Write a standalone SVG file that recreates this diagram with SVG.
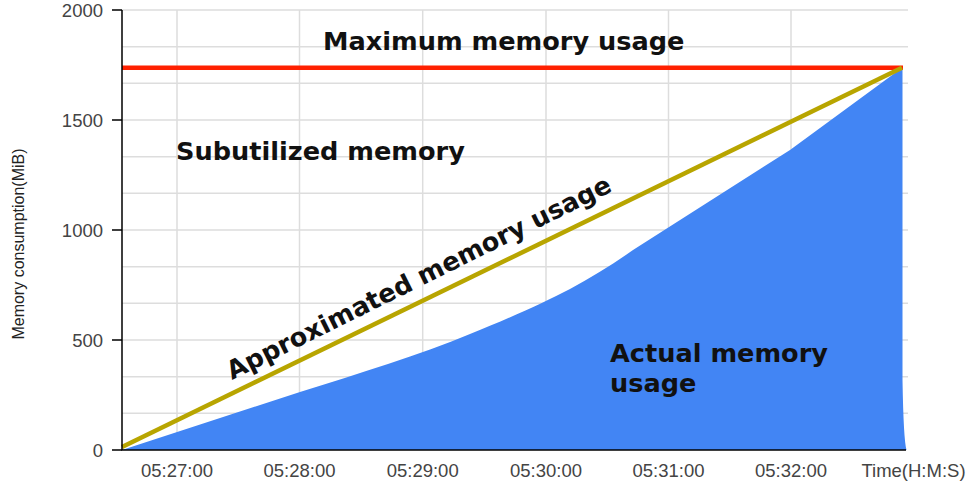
<svg xmlns="http://www.w3.org/2000/svg" width="969" height="486" viewBox="0 0 969 486">
<style>
.grid{stroke:#dddddd;stroke-width:1.5;fill:none}
.axis{stroke:#000;stroke-width:1.5;fill:none}
.tick{font-family:"Liberation Sans",Arial,sans-serif;font-size:18.5px;fill:#444}
.ann{font-family:"DejaVu Sans",Verdana,sans-serif;font-weight:bold;font-size:25.6px;fill:#111}
</style>
<rect width="969" height="486" fill="#fff"/>
<g id="grid">
<path class="grid" d="M122,10H908M122,46.7H908M122,83.3H908M122,120H908M122,156.7H908M122,193.3H908M122,230H908M122,266.7H908M122,303.3H908M122,340H908M122,376.7H908M122,413.3H908"/>
<path class="grid" d="M177,10V450M299.5,10V450M422.7,10V450M546,10V450M668.5,10V450M791,10V450"/>
</g>
<g id="actual-area">
<path fill="#4285f4" d="M122,450 L300,392 C360,373 420,355 470,334 C510,318 545,302 570,289 C592,277 612,265 633,250 L790,150 L902.5,67.5 L902.5,380 Q903.5,440 906.5,450 Z"/>
</g>
<g id="max-line">
<line x1="122" y1="67.7" x2="903" y2="67.7" stroke="#ff2000" stroke-width="4.5"/>
</g>
<g id="approx-line">
<line x1="122" y1="447" x2="902" y2="67.7" stroke="#b8a500" stroke-width="4.5"/>
</g>
<g id="axes">
<path class="axis" d="M122,10V450H906"/>
<path class="axis" d="M112,10H122M112,120H122M112,230H122M112,340H122M112,450H122"/>
</g>
<g id="y-labels" class="tick" text-anchor="end">
<text x="103" y="16.7">2000</text>
<text x="103" y="126.7">1500</text>
<text x="103" y="236.7">1000</text>
<text x="103" y="346.7">500</text>
<text x="103" y="456.7">0</text>
</g>
<g id="x-labels" class="tick" text-anchor="middle">
<text x="177" y="476.7">05:27:00</text>
<text x="299.5" y="476.7">05:28:00</text>
<text x="422.7" y="476.7">05:29:00</text>
<text x="546" y="476.7">05:30:00</text>
<text x="668.5" y="476.7">05:31:00</text>
<text x="791" y="476.7">05:32:00</text>
<text x="913.5" y="476.7">Time(H:M:S)</text>
</g>
<g id="y-title">
<text transform="translate(24,244) rotate(-90)" text-anchor="middle" font-family="Liberation Sans, Arial, sans-serif" font-size="16px" fill="#222">Memory consumption(MiB)</text>
</g>
<g id="labels" class="ann">
<text x="323" y="50">Maximum memory usage</text>
<text x="176" y="159.5">Subutilized memory</text>
<text x="610" y="361.7">Actual memory</text>
<text x="610" y="391.5">usage</text>
<text transform="translate(232,380) rotate(-26.4)">Approximated memory usage</text>
</g>
</svg>
